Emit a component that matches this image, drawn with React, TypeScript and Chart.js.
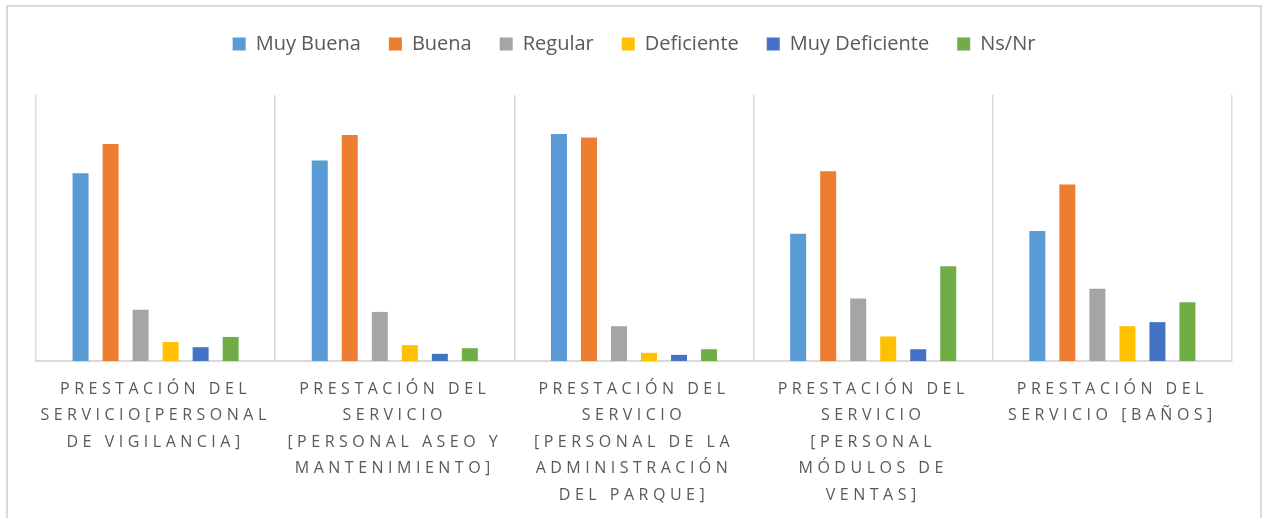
import React, { useEffect, useRef } from "react";
import { Chart, registerables, CategoryScale } from "chart.js";

Chart.register(...registerables);

class SpacedCategoryScale extends CategoryScale {
  static id = "spacedCategory";
  drawLabels(chartArea: any) {
    const ctx: any = this.ctx;
    ctx.save();
    ctx.letterSpacing = "4.5px";
    super.drawLabels(chartArea);
    ctx.restore();
  }
}
Chart.register(SpacedCategoryScale as any);

const categories: string[][] = [
  ["PRESTACIÓN DEL", "SERVICIO[PERSONAL", "DE VIGILANCIA]"],
  ["PRESTACIÓN DEL", "SERVICIO", "[PERSONAL ASEO Y", "MANTENIMIENTO]"],
  ["PRESTACIÓN DEL", "SERVICIO", "[PERSONAL DE LA", "ADMINISTRACIÓN", "DEL PARQUE]"],
  ["PRESTACIÓN DEL", "SERVICIO", "[PERSONAL", "MÓDULOS DE", "VENTAS]"],
  ["PRESTACIÓN DEL", "SERVICIO [BAÑOS]"],
];

const seriesNames = ["Muy Buena", "Buena", "Regular", "Deficiente", "Muy Deficiente", "Ns/Nr"];
const muyBuena = [36.7, 39.2, 44.4, 24.9, 25.4];
const buena = [42.4, 44.2, 43.7, 37.1, 34.5];
const regular = [10.0, 9.6, 6.8, 12.2, 14.1];
const deficiente = [3.7, 3.1, 1.6, 4.8, 6.8];
const muyDeficiente = [2.7, 1.4, 1.2, 2.3, 7.6];
const nsNr = [4.7, 2.5, 2.3, 18.5, 11.5];
const seriesColors = ["#5B9BD5", "#ED7D31", "#A5A5A5", "#FFC000", "#4472C4", "#70AD47"];
const yMax = 52;

export default function App() {
  const ref = useRef<HTMLCanvasElement | null>(null);

  useEffect(() => {
    if (!ref.current) return;
    const values = [muyBuena, buena, regular, deficiente, muyDeficiente, nsNr];
    const chart = new Chart(ref.current, {
      type: "bar",
      data: {
        labels: categories as any,
        datasets: seriesNames.map((name, i) => ({
          label: name,
          data: values[i],
          backgroundColor: seriesColors[i],
          borderWidth: 0,
          categoryPercentage: 0.753,
          barPercentage: 0.533,
        })),
      },
      options: {
        animation: false,
        responsive: true,
        maintainAspectRatio: false,
        layout: { padding: { left: 28, right: 28, top: -1, bottom: 39 } },
        plugins: {
          legend: {
            position: "top",
            labels: {
              boxWidth: 13,
              boxHeight: 13,
              padding: 28,
              color: "#595959",
              font: { family: "'Open Sans', sans-serif", size: 20 },
            },
          },
          tooltip: { enabled: false },
        },
        scales: {
          x: {
            type: "spacedCategory" as any,
            position: "bottom",
            offset: true,
            grid: { display: true, color: "#d9d9d9", lineWidth: 1.5, drawTicks: false, offset: true },
            border: { display: true, color: "#d9d9d9", width: 2 },
            ticks: {
              autoSkip: false,
              maxRotation: 0,
              minRotation: 0,
              padding: 15,
              color: "#595959",
              font: { family: "'Open Sans', sans-serif", size: 16, lineHeight: 26.5 / 16 },
            },
            afterFit: (s: any) => {
              s.height = 143;
            },
          } as any,
          xTop: {
            type: "category",
            position: "top",
            grid: { display: false },
            border: { display: false },
            ticks: { display: false },
            afterFit: (s: any) => {
              s.height = 31;
            },
          } as any,
          y: {
            display: false,
            min: 0,
            max: yMax,
          },
        },
      },
    });
    return () => chart.destroy();
  }, []);

  return (
    <div
      style={{
        position: "absolute",
        left: 6,
        top: 5,
        width: 1256,
        height: 540,
        border: "2px solid #d9d9d9",
        boxSizing: "border-box",
        background: "#fff",
      }}
    >
      <div style={{ position: "relative", width: 1252, height: 536 }}>
        <canvas ref={ref} />
      </div>
    </div>
  );
}
